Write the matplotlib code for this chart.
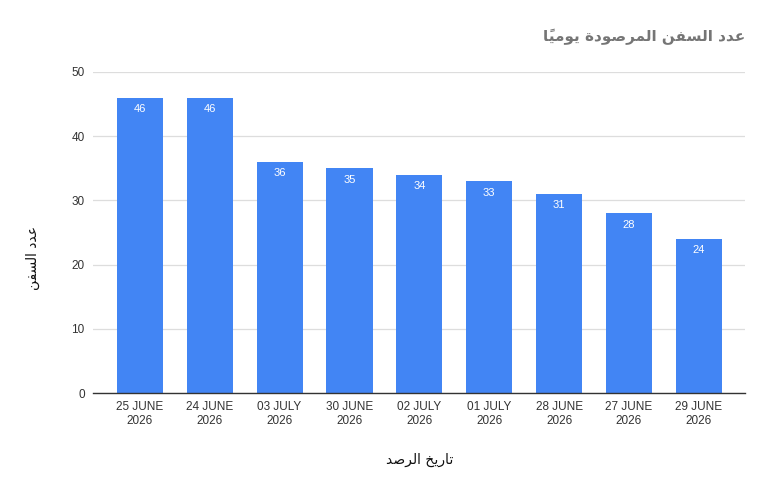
import matplotlib
matplotlib.use("Agg")
import matplotlib.pyplot as plt

# ---- data ----
categories = ["25 JUNE\n2026", "24 JUNE\n2026", "03 JULY\n2026", "30 JUNE\n2026",
              "02 JULY\n2026", "01 JULY\n2026", "28 JUNE\n2026", "27 JUNE\n2026",
              "29 JUNE\n2026"]
values = [46, 46, 36, 35, 34, 33, 31, 28, 24]
yticks = [0, 10, 20, 30, 40, 50]
title_text = "عدد السفن المرصودة يوميًا"
ylabel_text = "عدد السفن"
xlabel_text = "تاريخ الرصد"

# ---- minimal Arabic shaping (matplotlib has no complex text layout) ----
FORMS = {  # isolated, final, initial, medial
    "\u0627": ("\uFE8D", "\uFE8E", None, None),
    "\u0629": ("\uFE93", "\uFE94", None, None),
    "\u062A": ("\uFE95", "\uFE96", "\uFE97", "\uFE98"),
    "\u062E": ("\uFEA5", "\uFEA6", "\uFEA7", "\uFEA8"),
    "\u062F": ("\uFEA9", "\uFEAA", None, None),
    "\u0631": ("\uFEAD", "\uFEAE", None, None),
    "\u0633": ("\uFEB1", "\uFEB2", "\uFEB3", "\uFEB4"),
    "\u0635": ("\uFEB9", "\uFEBA", "\uFEBB", "\uFEBC"),
    "\u0639": ("\uFEC9", "\uFECA", "\uFECB", "\uFECC"),
    "\u0641": ("\uFED1", "\uFED2", "\uFED3", "\uFED4"),
    "\u0644": ("\uFEDD", "\uFEDE", "\uFEDF", "\uFEE0"),
    "\u0645": ("\uFEE1", "\uFEE2", "\uFEE3", "\uFEE4"),
    "\u0646": ("\uFEE5", "\uFEE6", "\uFEE7", "\uFEE8"),
    "\u0648": ("\uFEED", "\uFEEE", None, None),
    "\u064A": ("\uFEF1", "\uFEF2", "\uFEF3", "\uFEF4"),
}
MARKS = {"\u064B", "\u064E", "\u0651"}


def shape(text):
    chars = list(text)
    n = len(chars)

    def prev_letter(i):
        j = i - 1
        while j >= 0 and chars[j] in MARKS:
            j -= 1
        return chars[j] if j >= 0 else None

    def next_letter(i):
        j = i + 1
        while j < n and chars[j] in MARKS:
            j += 1
        return chars[j] if j < n else None

    out = []
    for i, c in enumerate(chars):
        if c not in FORMS:
            out.append(c)
            continue
        p, q = prev_letter(i), next_letter(i)
        join_prev = p in FORMS and FORMS[p][2] is not None
        join_next = q in FORMS and FORMS[c][2] is not None
        iso, fin, ini, med = FORMS[c]
        if join_prev and join_next:
            out.append(med)
        elif join_prev:
            out.append(fin)
        elif join_next:
            out.append(ini)
        else:
            out.append(iso)
    # visual order (marks end up just before their base, which places them over it)
    return "".join(reversed(out))


plt.rcParams["font.family"] = ["Liberation Sans", "DejaVu Sans"]

fig = plt.figure(figsize=(7.7, 4.93), dpi=100)
ax = fig.add_axes([0.1208, 0.2028, 0.8467, 0.6512])

x = list(range(len(categories)))
bars = ax.bar(x, values, width=0.66, color="#4285F4", zorder=3)
for xi, v in zip(x, values):
    ax.text(xi, v - 1.0, str(v), ha="center", va="top", color="white",
            fontsize=8, zorder=4)

ax.set_xlim(-0.67, 8.66)
ax.set_ylim(0, 50)
ax.set_yticks(yticks)
ax.set_yticklabels([str(t) for t in yticks], fontsize=8.5, color="#333333")
ax.set_xticks(x)
ax.set_xticklabels(categories, fontsize=8.5, color="#333333", linespacing=1.15)
ax.tick_params(axis="both", length=0, pad=6)
ax.tick_params(axis="x", pad=6)
ax.grid(axis="y", color="#dddddd", linewidth=0.9, zorder=0)
for s in ["top", "right", "left"]:
    ax.spines[s].set_visible(False)
ax.spines["bottom"].set_color("#333333")
ax.spines["bottom"].set_linewidth(1.0)
ax.spines["bottom"].set_zorder(5)

fig.text(745 / 770, 1 - 37 / 493, shape(title_text), ha="right", va="center",
         fontsize=11, fontweight="bold", color="#757575",
         family=["DejaVu Sans"])
fig.text(33 / 770, 1 - 258 / 493, shape(ylabel_text), ha="center", va="center",
         rotation=90, fontsize=10, color="#111111", family=["DejaVu Sans"])
fig.text(420 / 770, 1 - 460 / 493, shape(xlabel_text), ha="center", va="center",
         fontsize=10, color="#111111", family=["DejaVu Sans"])

fig.savefig("out.png", dpi=100)
